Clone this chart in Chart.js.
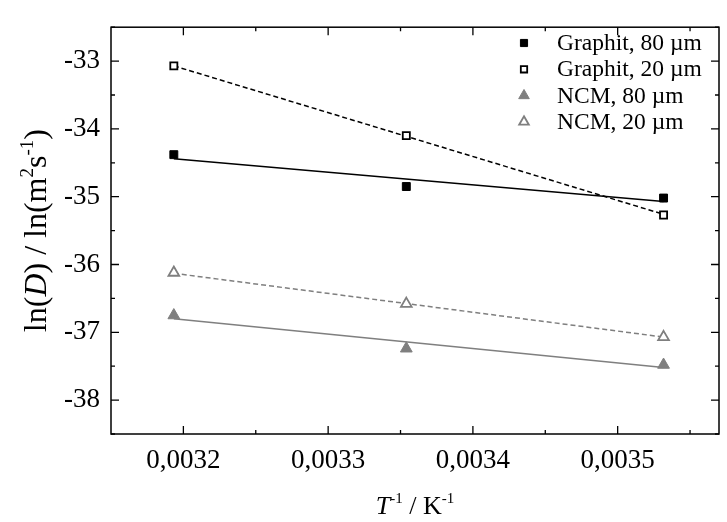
<!DOCTYPE html>
<html>
<head>
<meta charset="utf-8">
<script src="https://cdn.jsdelivr.net/npm/chart.js@4/dist/chart.umd.min.js"></script>
<style>
html,body{margin:0;padding:0;background:#fff;}
#wrap{width:727px;height:522px;}
</style>
</head>
<body>
<div id="wrap"><canvas id="c" width="727" height="522"></canvas></div>
<script>
// ---- data ----
const invT = [0.0031934, 0.0033540, 0.0035317];           // T^-1 / K^-1
const graphit80 = [-34.38, -34.85, -35.02];
const graphit20 = [-33.07, -34.10, -35.27];
const ncm80 = [-36.75, -37.24, -37.48];
const ncm20 = [-36.12, -36.58, -37.07];
// linear fit lines (values at first and last x)
const fitX = [0.0031934, 0.0035317];
const fitGraphit80 = [-34.44, -35.07];
const fitGraphit20 = [-33.07, -35.26];
const fitNcm80 = [-36.80, -37.52];
const fitNcm20 = [-36.13, -37.07];
const seriesNames = ['Graphit, 80 µm', 'Graphit, 20 µm', 'NCM, 80 µm', 'NCM, 20 µm'];
const xTicks = [0.0032, 0.0033, 0.0034, 0.0035];
const xMinor = [0.00325, 0.00335, 0.00345, 0.00355];
const yTicks = [-38, -37, -36, -35, -34, -33];
const yMinor = [-38.5, -37.5, -36.5, -35.5, -34.5, -33.5, -32.5];

const BLACK = '#000000';
const GRAY = '#7f7f7f';
const FONT = '"Liberation Serif", "Times New Roman", serif';

const pts = (ys) => invT.map((x, i) => ({x: x, y: ys[i]}));
const fit = (ys) => fitX.map((x, i) => ({x: x, y: ys[i]}));

const styles = [
  {color: BLACK, style: 'rect', fill: BLACK, r: 5.6, bw: 1, dash: []},
  {color: BLACK, style: 'rect', fill: '#ffffff', r: 5.0, bw: 1.8, dash: [5, 3]},
  {color: GRAY, style: 'triangle', fill: GRAY, r: 6.8, bw: 1, dash: []},
  {color: GRAY, style: 'triangle', fill: '#ffffff', r: 6.2, bw: 1.8, dash: [5, 3]}
];
const pointSeries = [graphit80, graphit20, ncm80, ncm20];
const fitSeries = [fitGraphit80, fitGraphit20, fitNcm80, fitNcm20];

const datasets = [];
fitSeries.forEach((f, i) => {
  datasets.push({
    type: 'line', label: 'fit ' + seriesNames[i], data: fit(f),
    borderColor: styles[i].color, borderWidth: 1.5, borderDash: styles[i].dash,
    pointRadius: 0, fill: false, tension: 0, order: 2
  });
});
pointSeries.forEach((s, i) => {
  datasets.push({
    type: 'scatter', label: seriesNames[i], data: pts(s),
    pointStyle: styles[i].style, pointRadius: styles[i].r,
    pointBackgroundColor: styles[i].fill, pointBorderColor: styles[i].color,
    pointBorderWidth: styles[i].bw, showLine: false, order: 1
  });
});

const decorations = {
  id: 'decorations',
  afterDraw(chart) {
    const ctx = chart.ctx;
    const a = chart.chartArea;
    const xs = chart.scales.x, ys = chart.scales.y;
    ctx.save();
    // frame
    ctx.strokeStyle = BLACK;
    ctx.lineWidth = 1.5;
    ctx.strokeRect(a.left, a.top, a.right - a.left, a.bottom - a.top);
    // inward ticks on all sides
    ctx.lineWidth = 1.3;
    ctx.beginPath();
    const tick = (vals, len, horiz) => {
      vals.forEach(v => {
        if (horiz) {
          const px = xs.getPixelForValue(v);
          ctx.moveTo(px, a.bottom); ctx.lineTo(px, a.bottom - len);
          ctx.moveTo(px, a.top); ctx.lineTo(px, a.top + len);
        } else {
          const py = ys.getPixelForValue(v);
          ctx.moveTo(a.left, py); ctx.lineTo(a.left + len, py);
          ctx.moveTo(a.right, py); ctx.lineTo(a.right - len, py);
        }
      });
    };
    tick(xTicks, 8, true);
    tick(xMinor, 4, true);
    tick(yTicks, 8, false);
    tick(yMinor, 4, false);
    ctx.stroke();

    // legend
    const lx = 524, tx = 557, y0 = 43, dy = 26.3;
    seriesNames.forEach((name, i) => {
      const y = y0 + i * dy;
      const st = styles[i];
      ctx.fillStyle = st.fill;
      ctx.strokeStyle = st.color;
      ctx.lineWidth = st.bw;
      Chart.helpers.drawPoint(ctx, {pointStyle: st.style, radius: st.r * 0.9, rotation: 0, borderWidth: st.bw}, lx, y);
      ctx.fillStyle = '#000';
      ctx.font = '23.5px ' + FONT;
      ctx.textAlign = 'left';
      ctx.textBaseline = 'middle';
      ctx.fillText(name, tx, y + 1);
    });

    // axis titles with italic and superscripts
    const drawRuns = (runs, cx, cy) => {
      let total = 0;
      runs.forEach(r => { ctx.font = r.font; r.w = ctx.measureText(r.t).width; total += r.w; });
      let x = cx - total / 2;
      ctx.textAlign = 'left';
      ctx.textBaseline = 'alphabetic';
      ctx.fillStyle = '#000';
      runs.forEach(r => { ctx.font = r.font; ctx.fillText(r.t, x, cy + (r.dy || 0)); x += r.w; });
    };
    // x title
    const xb = '26px ' + FONT, xi = 'italic 26px ' + FONT, xs2 = '15px ' + FONT;
    drawRuns([
      {t: 'T', font: xi}, {t: '-1', font: xs2, dy: -11},
      {t: ' / K', font: xb}, {t: '-1', font: xs2, dy: -11}
    ], (a.left + a.right) / 2, 514);
    // y title rotated
    const yb = '32px ' + FONT, yi = 'italic 32px ' + FONT, ys2 = '19px ' + FONT;
    ctx.save();
    ctx.translate(46, (a.top + a.bottom) / 2);
    ctx.rotate(-Math.PI / 2);
    drawRuns([
      {t: 'ln(', font: yb}, {t: 'D', font: yi}, {t: ') / ln(m', font: yb},
      {t: '2', font: ys2, dy: -13}, {t: 's', font: yb}, {t: '-1', font: ys2, dy: -13},
      {t: ')', font: yb}
    ], 0, 0);
    ctx.restore();
    ctx.restore();
  }
};

new Chart(document.getElementById('c'), {
  data: {datasets: datasets},
  options: {
    responsive: false,
    animation: false,
    layout: {padding: {top: 11, right: 1, left: 0, bottom: 0}},
    plugins: {legend: {display: false}, tooltip: {enabled: false}},
    scales: {
      x: {
        type: 'linear', min: 0.00315, max: 0.00357,
        grid: {display: false, drawTicks: false},
        border: {display: false},
        afterBuildTicks: (s) => { s.ticks = xTicks.map(v => ({value: v})); },
        afterFit: (s) => { s.height = 88; },
        ticks: {
          padding: 11, color: '#000', maxRotation: 0, autoSkip: false,
          font: {family: FONT, size: 27},
          callback: (v) => Number(v).toFixed(4).replace('.', ',')
        }
      },
      y: {
        type: 'linear', min: -38.5, max: -32.5,
        grid: {display: false, drawTicks: false},
        border: {display: false},
        afterBuildTicks: (s) => { s.ticks = yTicks.map(v => ({value: v})); },
        afterFit: (s) => { s.width = 111; },
        ticks: {
          padding: 11, color: '#000', autoSkip: false,
          font: {family: FONT, size: 27},
          callback: (v) => String(v)
        }
      }
    }
  },
  plugins: [decorations]
});
</script>
</body>
</html>
